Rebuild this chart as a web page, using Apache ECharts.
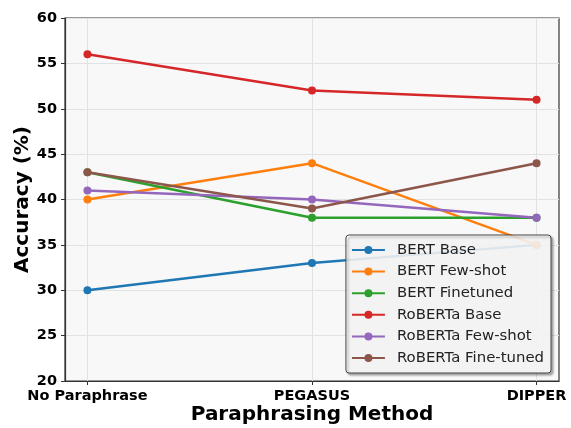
<!DOCTYPE html>
<html>
<head>
<meta charset="utf-8">
<script src="https://cdn.jsdelivr.net/npm/echarts@6/dist/echarts.min.js"></script>
<style>html,body{margin:0;padding:0;background:#fff}#c{width:571px;height:428px}</style>
</head>
<body>
<div id="c"></div>
<script>
var categories = ['No Paraphrase', 'PEGASUS', 'DIPPER'];
var yTicks = [20, 25, 30, 35, 40, 45, 50, 55, 60];
var bertBase = [30, 33, 35];
var bertFewShot = [40, 44, 35];
var bertFinetuned = [43, 38, 38];
var robertaBase = [56, 52, 51];
var robertaFewShot = [41, 40, 38];
var robertaFineTuned = [43, 39, 44];

var seriesDefs = [
  ['BERT Base', bertBase, '#1f77b4'],
  ['BERT Few-shot', bertFewShot, '#ff7f0e'],
  ['BERT Finetuned', bertFinetuned, '#2ca02c'],
  ['RoBERTa Base', robertaBase, '#d62728'],
  ['RoBERTa Few-shot', robertaFewShot, '#9467bd'],
  ['RoBERTa Fine-tuned', robertaFineTuned, '#8c564b']
];

var chart = echarts.init(document.getElementById('c'), null, {renderer: 'canvas'});
var font = 'DejaVu Sans';
chart.setOption({
  animation: false,
  textStyle: {fontFamily: font},
  grid: {left: 65, right: 12, top: 18, bottom: 47, containLabel: false, outerBoundsMode: 'none',
    show: true, backgroundColor: '#f8f8f8', borderColor: '#333', borderWidth: 1.2},
  xAxis: {
    type: 'value', min: -0.1, max: 2.1,
    name: 'Paraphrasing Method', nameLocation: 'middle', nameGap: 24, nameMoveOverlap: false,
    nameTextStyle: {fontSize: 20, fontWeight: 'bold', color: '#000', fontFamily: font},
    axisLine: {show: true, onZero: false, lineStyle: {color: '#333', width: 1.2}},
    axisTick: {show: true, customValues: [0, 1, 2], length: 4, lineStyle: {color: '#333'}},
    axisLabel: {customValues: [0, 1, 2], formatter: function (v) { return categories[Math.round(v)]; },
      fontSize: 14.5, fontWeight: 'bold', color: '#000', margin: 8, fontFamily: font, hideOverlap: false},
    splitLine: {show: true, lineStyle: {color: '#e2e2e2', width: 1}}
  },
  yAxis: {
    type: 'value', min: 20, max: 60, interval: 5,
    name: 'Accuracy (%)', nameLocation: 'middle', nameGap: 32, nameMoveOverlap: false,
    nameTextStyle: {fontSize: 20, fontWeight: 'bold', color: '#000', fontFamily: font},
    axisLine: {show: true, onZero: false, lineStyle: {color: '#333', width: 1.2}},
    axisTick: {show: true, length: 4, lineStyle: {color: '#333'}},
    axisLabel: {fontSize: 14.5, fontWeight: 'bold', color: '#000', margin: 8, fontFamily: font,
      customValues: yTicks},
    splitLine: {show: true, lineStyle: {color: '#e2e2e2', width: 1}}
  },
  legend: {
    orient: 'vertical', right: 20, bottom: 55,
    itemWidth: 33, itemHeight: 10, itemGap: 5.6,
    padding: [7, 7, 7, 5],
    backgroundColor: 'rgba(255,255,255,0.85)', borderColor: '#444', borderWidth: 1, borderRadius: 3,
    shadowColor: 'rgba(0,0,0,0.35)', shadowOffsetX: 2, shadowOffsetY: 2, shadowBlur: 2,
    textStyle: {fontSize: 14.9, lineHeight: 16, color: '#222', fontFamily: font, padding: [0, 0, 0, 7]},
    data: seriesDefs.map(function (s) { return s[0]; })
  },
  series: seriesDefs.map(function (s) {
    return {
      name: s[0], type: 'line',
      data: s[1].map(function (v, i) { return [i, v]; }),
      symbol: 'circle', symbolSize: 8,
      lineStyle: {width: 2.5, color: s[2]},
      itemStyle: {color: s[2]}
    };
  })
});
</script>
</body>
</html>
